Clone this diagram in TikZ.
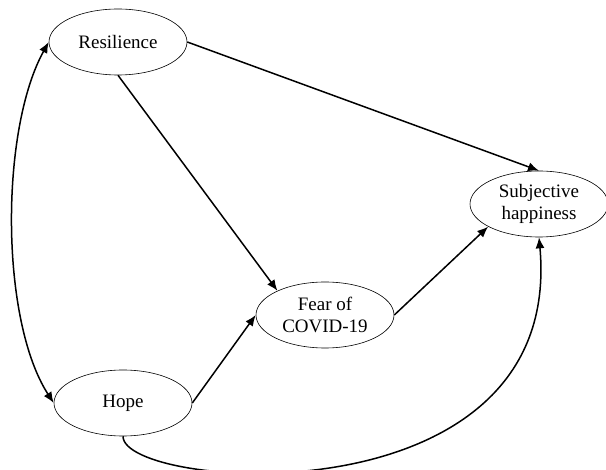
\documentclass[tikz,border=0pt]{standalone}
\usepackage{fontspec}
\setmainfont{Liberation Serif}
\usetikzlibrary{shapes.geometric,arrows.meta}
\begin{document}
\begin{tikzpicture}[x=1pt,y=-1pt,
  var/.style={ellipse,draw,line width=0.6pt,minimum width=138pt,minimum height=66pt,inner sep=0pt,align=center,font=\fontsize{19}{22.5}\selectfont},
  conn/.style={line width=1.5pt,-{Latex[length=11pt,width=9pt]}},
  bconn/.style={line width=1.5pt,{Latex[length=11pt,width=9pt]}-{Latex[length=11pt,width=9pt]}}]
\useasboundingbox (0,0) rectangle (606,470);
\node[var] (res) at (118,42) {Resilience};
\node[var] (hope) at (123,403) {Hope};
\node[var] (fear) at (325,315) {Fear of\\COVID-19};
\node[var] (subj) at (539,204) {Subjective\\happiness};
\draw[bconn] (res.west) .. controls (0,130) and (0,320) .. (hope.west);
\draw[conn] (res.east) -- (subj.north);
\draw[conn] (res.south) -- (fear.153);
\draw[conn] (hope.east) -- (fear.west);
\draw[conn] (fear.east) -- (subj.204);
\draw[conn] (hope.south) .. controls (123,490) and (565,525) .. (subj.south);
\end{tikzpicture}
\end{document}
